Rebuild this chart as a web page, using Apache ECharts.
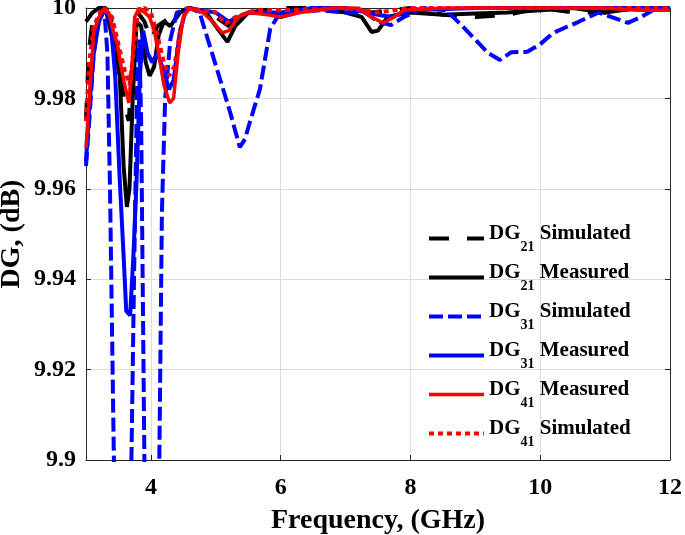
<!DOCTYPE html>
<html>
<head>
<meta charset="utf-8">
<script src="https://cdn.jsdelivr.net/npm/echarts@6/dist/echarts.min.js"></script>
<style>
html,body{margin:0;padding:0;background:#fff;}
#chart{width:685px;height:535px;}
</style>
</head>
<body>
<div id="chart"></div>
<script>
// ---- Data ----
const xTickValues = [4, 6, 8, 10, 12];

const dg21SimFreq = [3.0, 3.04, 3.1, 3.2, 3.3, 3.4, 3.5, 3.6, 3.66, 3.72, 3.8, 3.9, 4.0, 4.1, 4.2, 4.4, 4.6, 5.0, 5.2, 5.5, 6.0, 7.0, 7.4, 8.0, 8.5, 9.0, 9.5, 10.0, 10.5, 11.0, 11.5, 12.0];
const dg21SimVal  = [9.975, 9.99, 9.997, 9.999, 10.0, 9.997, 9.99, 9.978, 9.975, 9.99, 9.999, 9.997, 9.993, 9.996, 9.997, 9.999, 10.0, 9.998, 9.996, 9.999, 10.0, 10.0, 9.999, 10.0, 9.9985, 9.998, 9.9985, 10.0, 9.999, 9.999, 10.0, 10.0];

const dg21MeasFreq = [3.0, 3.1, 3.2, 3.3, 3.38, 3.45, 3.52, 3.58, 3.63, 3.67, 3.72, 3.78, 3.85, 3.92, 3.98, 4.05, 4.12, 4.2, 4.3, 4.45, 4.6, 4.85, 5.05, 5.18, 5.3, 5.5, 5.8, 6.0, 6.5, 7.0, 7.25, 7.4, 7.5, 7.65, 7.8, 8.0, 8.5, 9.0, 9.5, 10.0, 10.5, 11.0, 11.5, 12.0];
const dg21MeasVal  = [9.997, 9.999, 10.0, 10.0, 9.995, 9.99, 9.985, 9.965, 9.956, 9.96, 9.98, 9.997, 9.996, 9.988, 9.985, 9.987, 9.994, 9.997, 9.996, 9.999, 10.0, 9.999, 9.995, 9.9925, 9.996, 9.999, 9.999, 9.998, 10.0, 9.999, 9.998, 9.9947, 9.995, 9.998, 9.9985, 9.999, 9.9985, 9.9988, 9.999, 9.9995, 10.0, 9.999, 10.0, 10.0];

const dg31SimFreq = [3.0, 3.05, 3.12, 3.2, 3.28, 3.33, 3.37, 3.41, 3.45, 3.55, 3.65, 3.7, 3.74, 3.79, 3.82, 3.85, 3.88, 3.9, 3.95, 4.05, 4.1, 4.13, 4.17, 4.22, 4.3, 4.4, 4.6, 4.75, 4.9, 5.05, 5.22, 5.37, 5.45, 5.53, 5.68, 5.84, 5.95, 6.2, 6.6, 7.0, 7.3, 7.5, 7.7, 7.9, 8.2, 8.55, 8.8, 9.0, 9.2, 9.38, 9.55, 9.8, 10.0, 10.2, 10.6, 10.9, 11.1, 11.35, 11.55, 11.8, 12.0];
const dg31SimVal  = [9.965, 9.975, 9.99, 9.998, 10.0, 9.99, 9.96, 9.92, 9.88, 9.85, 9.86, 9.9, 9.94, 9.985, 9.993, 9.975, 9.93, 9.9, 9.87, 9.87, 9.88, 9.9, 9.955, 9.98, 9.993, 9.999, 10.0, 9.999, 9.992, 9.985, 9.977, 9.9692, 9.971, 9.975, 9.982, 9.9955, 9.998, 9.999, 9.9995, 9.999, 9.999, 9.997, 9.9962, 9.998, 10.0, 9.9995, 9.996, 9.993, 9.99, 9.9885, 9.9902, 9.9903, 9.992, 9.9945, 9.997, 9.999, 9.998, 9.9967, 9.998, 10.0, 10.0];

const dg31MeasFreq = [3.0, 3.05, 3.12, 3.2, 3.3, 3.38, 3.45, 3.52, 3.58, 3.62, 3.68, 3.73, 3.78, 3.83, 3.88, 3.95, 4.02, 4.1, 4.2, 4.28, 4.35, 4.45, 4.55, 5.0, 5.2, 5.5, 6.0, 6.5, 7.0, 7.5, 7.7, 8.0, 9.0, 10.0, 11.0, 12.0];
const dg31MeasVal  = [9.966, 9.978, 9.99, 9.997, 10.0, 9.997, 9.985, 9.962, 9.945, 9.933, 9.932, 9.945, 9.962, 9.985, 9.995, 9.99, 9.988, 9.99, 9.986, 9.982, 9.984, 9.995, 10.0, 9.999, 9.997, 9.999, 9.999, 10.0, 10.0, 9.9985, 9.998, 9.9995, 10.0, 10.0, 10.0, 10.0];

const dg41MeasFreq = [3.0, 3.05, 3.12, 3.2, 3.28, 3.35, 3.42, 3.48, 3.58, 3.66, 3.7, 3.75, 3.82, 3.9, 3.98, 4.05, 4.12, 4.2, 4.29, 4.35, 4.42, 4.5, 4.6, 4.8, 4.95, 5.1, 5.2, 5.35, 5.5, 5.8, 6.0, 6.3, 6.8, 7.2, 7.4, 7.58, 7.75, 7.9, 8.5, 10.0, 11.0, 11.5, 12.0];
const dg41MeasVal  = [9.969, 9.98, 9.9947, 9.998, 10.0, 9.999, 9.995, 9.992, 9.984, 9.979, 9.985, 9.998, 10.0, 9.999, 9.998, 9.995, 9.99, 9.983, 9.979, 9.98, 9.99, 9.998, 10.0, 9.999, 9.997, 9.9945, 9.995, 9.998, 9.999, 9.9985, 9.998, 9.999, 10.0, 10.0, 9.998, 9.9967, 9.998, 9.9995, 10.0, 10.0, 10.0, 9.9995, 9.9995];

const dg41SimFreq = [3.0, 3.05, 3.12, 3.25, 3.4, 3.5, 3.6, 3.67, 3.73, 3.8, 3.9, 4.0, 4.1, 4.2, 4.28, 4.36, 4.45, 4.55, 5.0, 5.15, 5.3, 5.6, 6.0, 7.0, 7.5, 8.0, 9.0, 10.0, 11.0, 12.0];
const dg41SimVal  = [9.975, 9.988, 9.996, 10.0, 9.998, 9.992, 9.986, 9.983, 9.99, 9.999, 10.0, 9.999, 9.994, 9.988, 9.985, 9.987, 9.995, 10.0, 9.999, 9.9965, 9.998, 9.9995, 9.9995, 10.0, 9.999, 10.0, 10.0, 10.0, 10.0, 10.0];

// ---- Build ----
function zip(xs, ys) { return xs.map((x, i) => [x, ys[i]]); }
const FONT = "'Liberation Serif', 'Times New Roman', serif";
const AXIS_COLOR = '#262626';

function mkSeries(name, xs, ys, color, width, type) {
  return {
    name: name,
    type: 'line',
    data: zip(xs, ys),
    showSymbol: false,
    symbol: 'none',
    smooth: false,
    clip: true,
    animation: false,
    lineStyle: { color: color, width: width, type: type, cap: 'butt' },
    itemStyle: { color: color }
  };
}

const series = [
  mkSeries('DG21 Simulated', dg21SimFreq, dg21SimVal, '#000000', 4, [20, 18]),
  mkSeries('DG21 Measured', dg21MeasFreq, dg21MeasVal, '#000000', 4, 'solid'),
  mkSeries('DG31 Simulated', dg31SimFreq, dg31SimVal, '#0000ff', 4, [14, 5]),
  mkSeries('DG31 Measured', dg31MeasFreq, dg31MeasVal, '#0000ff', 4, 'solid'),
  mkSeries('DG41 Measured', dg41MeasFreq, dg41MeasVal, '#ff0000', 3.5, 'solid'),
  mkSeries('DG41 Simulated', dg41SimFreq, dg41SimVal, '#ff0000', 4, [5, 4])
];

const chart = echarts.init(document.getElementById('chart'), null, { renderer: 'canvas' });
chart.setOption({
  animation: false,
  backgroundColor: '#ffffff',
  grid: { left: 86, right: 15, top: 8, bottom: 75, containLabel: false, outerBoundsMode: 'none' },
  legend: {
    orient: 'vertical',
    left: 427,
    top: 223,
    padding: 0,
    itemGap: 8,
    itemWidth: 55,
    itemHeight: 1,
    data: series.map(s => s.name),
    lineStyle: { width: 'inherit' },
    itemStyle: { opacity: 0 },
    formatter: function (name) {
      const parts = name.split(' ');
      return '{m|DG}{s|' + parts[0].slice(2) + '}{m| ' + parts[1] + '}';
    },
    textStyle: {
      rich: {
        m: { fontFamily: FONT, fontWeight: 'bold', fontSize: 21, color: '#000', verticalAlign: 'top' },
        s: { fontFamily: FONT, fontWeight: 'bold', fontSize: 14, color: '#000', verticalAlign: 'top', padding: [17, 0, 0, 0] }
      }
    }
  },
  xAxis: [{
    type: 'value',
    min: 3,
    max: 12,
    position: 'bottom',
    name: 'Frequency, (GHz)',
    nameLocation: 'middle',
    nameGap: 47,
    nameTextStyle: { fontFamily: FONT, fontWeight: 'bold', fontSize: 28, color: '#000' },
    axisLine: { show: true, onZero: false, lineStyle: { color: AXIS_COLOR, width: 1 } },
    axisTick: { show: true, inside: true, length: 5, customValues: xTickValues, lineStyle: { color: AXIS_COLOR } },
    axisLabel: { customValues: xTickValues, margin: 16, fontFamily: FONT, fontWeight: 'bold', fontSize: 24, color: '#000' },
    splitLine: { show: true, lineStyle: { color: '#dcdcdc', width: 1 } }
  }, {
    type: 'value',
    min: 3,
    max: 12,
    position: 'top',
    axisLine: { show: true, onZero: false, lineStyle: { color: AXIS_COLOR, width: 1 } },
    axisTick: { show: true, inside: true, length: 5, customValues: xTickValues, lineStyle: { color: AXIS_COLOR } },
    axisLabel: { show: false },
    splitLine: { show: false }
  }],
  yAxis: [{
    type: 'value',
    min: 9.9,
    max: 10,
    interval: 0.02,
    position: 'left',
    name: 'DG, (dB)',
    nameLocation: 'middle',
    nameGap: 60,
    nameMoveOverlap: false,
    nameRotate: 90,
    nameTextStyle: { fontFamily: FONT, fontWeight: 'bold', fontSize: 28, color: '#000' },
    axisLine: { show: true, onZero: false, lineStyle: { color: AXIS_COLOR, width: 1 } },
    axisTick: { show: true, inside: true, length: 5, lineStyle: { color: AXIS_COLOR } },
    axisLabel: { margin: 10, fontFamily: FONT, fontWeight: 'bold', fontSize: 24, color: '#000',
      formatter: v => String(Math.round(v * 100) / 100) },
    splitLine: { show: true, lineStyle: { color: '#dcdcdc', width: 1 } }
  }, {
    type: 'value',
    min: 9.9,
    max: 10,
    interval: 0.02,
    position: 'right',
    axisLine: { show: true, onZero: false, lineStyle: { color: AXIS_COLOR, width: 1 } },
    axisTick: { show: true, inside: true, length: 5, lineStyle: { color: AXIS_COLOR } },
    axisLabel: { show: false },
    splitLine: { show: false }
  }],
  series: series
});
</script>
</body>
</html>
